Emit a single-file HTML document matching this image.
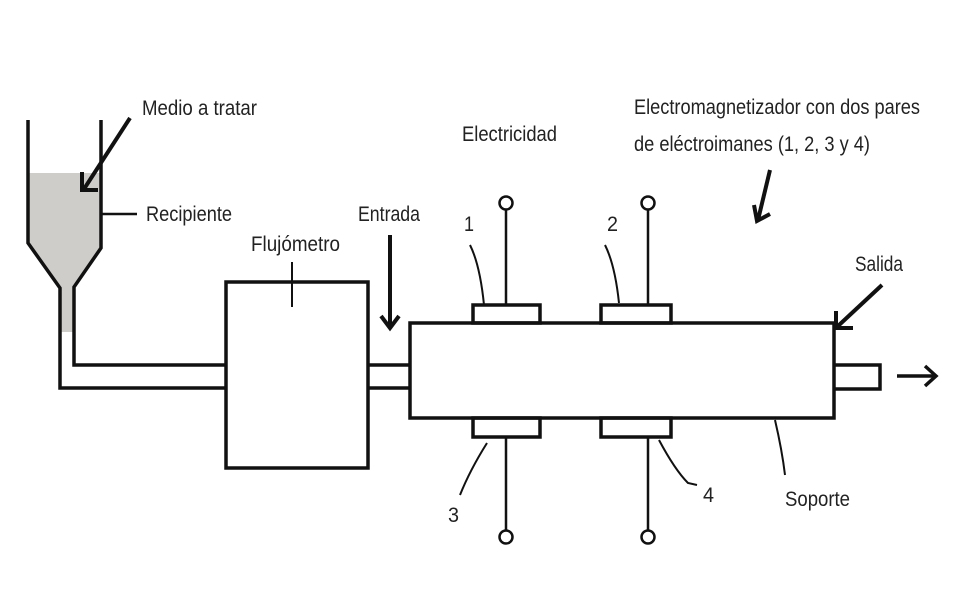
<!DOCTYPE html>
<html><head><meta charset="utf-8"><style>body{margin:0;background:#fff}svg{display:block}</style></head><body>
<svg width="962" height="593" viewBox="0 0 962 593" xmlns="http://www.w3.org/2000/svg" font-family="Liberation Sans, sans-serif" font-size="21" fill="#222">
<polygon points="29,173 100,173 100,248 73,287 73,332 61,332 61,288 29,243" fill="#cfcdc9"/>
<g stroke="#111" stroke-width="3.5" fill="none">
<polyline points="28,120 28,243 60,288 60,388 226,388"/>
<polyline points="101,120 101,248 74,287 74,365 226,365"/>
<line x1="101" y1="214" x2="137" y2="214" stroke-width="2.5"/>
<rect x="226" y="282" width="142" height="186"/>
<line x1="292" y1="262" x2="292" y2="307" stroke-width="2"/>
<line x1="368" y1="365" x2="410" y2="365"/><line x1="368" y1="388" x2="410" y2="388"/>
<rect x="410" y="323" width="424" height="95"/>
<rect x="473" y="305" width="67" height="18"/><rect x="601" y="305" width="70" height="18"/>
<rect x="473" y="418" width="67" height="19"/><rect x="601" y="418" width="70" height="19"/>
<polyline points="834,365 880,365 880,389 834,389"/>
<line x1="897" y1="376" x2="934" y2="376"/><polyline points="925,366 936,376 925,386"/>
<g stroke-width="2.5">
<line x1="506" y1="210" x2="506" y2="305"/><circle cx="506" cy="203" r="6.5"/>
<line x1="648" y1="210" x2="648" y2="305"/><circle cx="648" cy="203" r="6.5"/>
<line x1="506" y1="437" x2="506" y2="530"/><circle cx="506" cy="537" r="6.5"/>
<line x1="648" y1="437" x2="648" y2="530"/><circle cx="648" cy="537" r="6.5"/>
</g>
<g stroke-width="2">
<path d="M470,245 Q480,265 484,305"/>
<path d="M605,245 Q615,265 619,303"/>
<path d="M487,443 Q470,470 460,495"/>
<path d="M659,440 Q675,470 688,483 L697,485"/>
<path d="M775,420 Q782,450 785,475"/>
</g>
<g stroke-width="4">
<line x1="130" y1="118" x2="84" y2="189"/><polyline points="82,172 82,190 98,190"/>
<line x1="390" y1="235" x2="390" y2="326"/><polyline points="381,316 390,328 399,316"/>
<line x1="770" y1="170" x2="758" y2="220"/><polyline points="754,205 757,221 770,214"/>
<line x1="882" y1="285" x2="838" y2="326"/><polyline points="836,311 836,328 853,328"/>
</g>
</g>
<text x="142" y="115" textLength="115" lengthAdjust="spacingAndGlyphs">Medio a tratar</text>
<text x="146" y="221" textLength="86" lengthAdjust="spacingAndGlyphs">Recipiente</text>
<text x="251" y="251" textLength="89" lengthAdjust="spacingAndGlyphs">Flujómetro</text>
<text x="358" y="221" textLength="62" lengthAdjust="spacingAndGlyphs">Entrada</text>
<text x="462" y="141" textLength="95" lengthAdjust="spacingAndGlyphs">Electricidad</text>
<text x="634" y="114" textLength="286" lengthAdjust="spacingAndGlyphs">Electromagnetizador con dos pares</text>
<text x="634" y="151" textLength="236" lengthAdjust="spacingAndGlyphs">de eléctroimanes (1, 2, 3 y 4)</text>
<text x="855" y="271" textLength="48" lengthAdjust="spacingAndGlyphs">Salida</text>
<text x="464" y="231" textLength="10" lengthAdjust="spacingAndGlyphs">1</text><text x="607" y="231" textLength="11" lengthAdjust="spacingAndGlyphs">2</text>
<text x="448" y="522" textLength="11" lengthAdjust="spacingAndGlyphs">3</text><text x="703" y="502" textLength="11" lengthAdjust="spacingAndGlyphs">4</text>
<text x="785" y="506" textLength="65" lengthAdjust="spacingAndGlyphs">Soporte</text>
</svg>
</body></html>
